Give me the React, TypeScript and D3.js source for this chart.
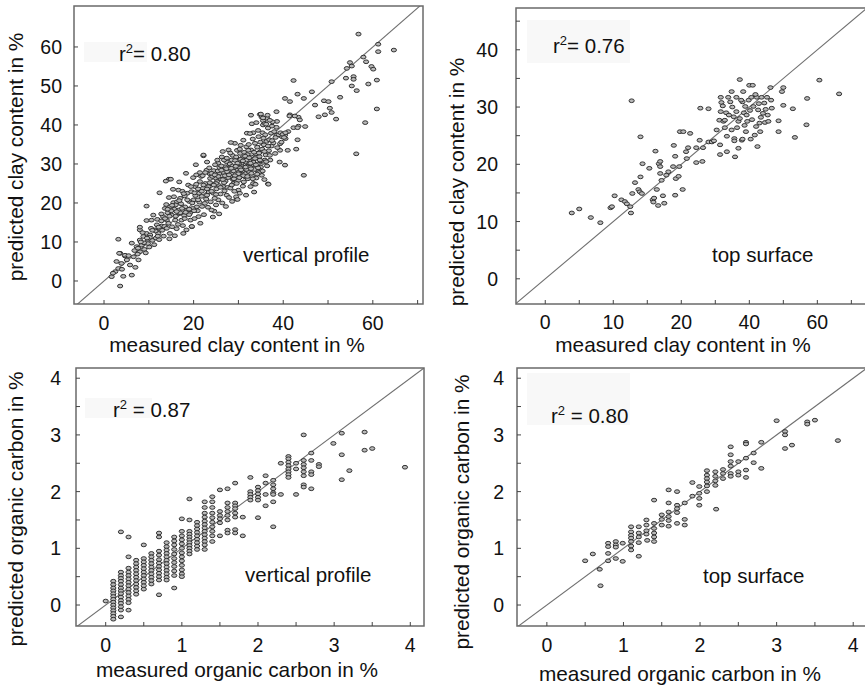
import React from 'react';
import * as d3 from 'd3';

const FONT = '"Liberation Sans", Arial, Helvetica, sans-serif';

// ---------- Panel A: clay content, vertical profile (measured, predicted) ----------
const CLAY_VP: [number, number][] = [
  [56.8,63.3],[61.2,60.7],[64.7,59.2],[61.2,58.8],[57.9,57.4],[58.5,56.2],[54.9,56.0],[55.3,55.1],[54.2,54.5],[59.7,55.0],
  [60.1,54.3],[55.7,52.4],[55.7,51.7],[54.0,52.0],[55.3,50.0],[56.4,48.8],[60.9,51.5],[59.0,50.5],[50.8,51.1],[42.3,51.4],
  [60.9,44.1],[58.3,40.6],[56.3,32.6],[44.6,27.1],[40.4,29.7],[52.7,47.1],[49.1,46.2],[50.1,46.0],[50.4,44.3],[50.8,43.2],
  [51.8,41.5],[49.3,42.6],[47.9,42.1],[46.4,48.5],[47.1,45.1],[44.6,46.8],[43.2,47.9],[40.4,46.8],[41.5,46.0],[41.5,42.6],
  [43.4,42.0],[42.3,39.3],[43.4,39.7],[44.9,39.6],[43.2,36.2],[42.9,33.8],[38.5,43.4],[34.8,42.7],[32.8,42.5],[35.2,42.0],
  [33.0,40.3],[39.7,37.0],[35.5,41.1],[35.5,40.0],[37.5,39.7],[38.6,40.9],[41.4,42.3],[43.7,41.3],[42.6,42.3],[40.4,37.4],
  [41.1,38.3],[43.2,39.3],[40.5,36.5],[36.4,41.7],[31.9,37.9],[33.3,38.0],[38.5,37.4],[39.3,35.2],[39.3,33.5],[36.6,24.9],
  [33.6,24.9],[29.6,21.0],[24.6,17.9],[19.6,13.9],[3.2,10.7],[3.6,-1.3],[6.2,1.5],[1.7,1.1],[3.6,7.1],[4.7,6.4],
  [9.5,12.2],[9.5,15.5],[14.5,26.1],[13.8,25.6],[22.2,32.1],[25.5,30.2],
  [2.5,2.4],[3.2,3.2],[4.3,1.2],[3.9,4.5],[5.1,5.4],[2.8,5.0],[4.7,6.6],[3.4,7.1],[5.8,4.1],[2.0,2.0],
  [4.0,3.0],[5.5,6.5],[6.6,6.2],[7.7,5.4],[8.0,7.5],[7.3,8.8],[6.2,9.7],[8.0,10.5],[8.8,11.4],[9.7,10.1],
  [10.3,11.8],[8.0,13.1],[8.0,13.8],[9.5,19.2],[10.6,15.6],[11.0,16.9],[11.4,13.1],[11.8,14.4],[12.1,12.2],[12.9,14.1],
  [12.4,22.6],[13.2,16.5],[13.6,18.6],[14.0,15.6],[14.4,14.8],[14.7,12.2],[15.1,16.9],[14.5,21.4],[14.9,26.1],[15.5,20.1],
  [15.9,15.6],[16.2,13.4],[16.6,18.2],[17.0,21.2],[16.6,23.3],[17.3,15.6],[17.7,12.2],[18.1,19.0],[18.3,27.6],[18.6,22.5],
  [19.2,17.4],[19.6,14.0],[20.0,20.8],[20.3,24.2],[20.7,19.0],[21.1,16.5],[20.5,29.8],[21.4,25.5],[21.8,21.7],[22.2,32.3],
  [22.5,19.9],[22.9,28.4],[23.3,24.2],[23.7,26.3],[24.0,18.2],[24.4,22.5],[24.8,29.8],[25.2,25.5],[25.5,20.8],[25.9,27.6],
  [26.3,31.8],[26.6,24.2],[27.0,29.3],[27.4,22.0],[27.8,33.6],[28.1,26.7],[28.5,31.0],[28.9,25.0],[29.2,35.3],[29.6,28.4],
  [30.0,23.3],[30.4,32.7],[29.5,21.6],[29.8,20.9],[30.7,30.1],[31.1,36.1],[31.5,26.7],[31.8,34.4],[32.2,29.3],[32.6,37.8],
  [32.9,31.8],[33.3,25.0],[33.7,35.3],[34.1,28.4],[34.4,38.6],[34.8,33.1],[35.2,27.1],[35.6,36.6],[35.9,40.4],[35.9,31.0],
  [33.8,24.8],[36.7,24.8],
  [6.8,7.8],[7.5,6.9],[8.4,9.2],[9.0,8.1],[9.8,9.6],[7.0,3.5],[8.6,12.4],[9.3,7.2],[10.1,8.7],[10.8,10.4],
  [10.5,13.5],[11.2,9.3],[11.6,11.0],[11.9,15.8],[12.3,10.6],[12.6,13.3],[12.8,17.2],[13.3,11.5],[13.5,14.0],[13.9,19.6],
  [14.2,17.5],[14.6,10.8],[14.8,19.1],[15.2,13.9],[15.4,23.5],[15.7,18.4],[15.8,11.6],[16.0,16.6],[16.3,20.3],[16.5,14.5],
  [16.8,25.4],[16.9,17.3],[17.2,19.8],[17.5,23.0],[17.6,14.2],[17.9,16.8],[18.0,21.8],[18.4,13.1],[18.5,18.1],[18.8,24.6],
  [19.0,20.4],[19.3,15.6],[19.5,22.9],[19.8,18.6],[19.9,26.5],[20.2,16.0],[20.4,21.9],[20.6,27.2],[20.9,18.0],[21.0,23.6],
  [21.3,20.2],[21.5,14.8],[21.7,26.8],[21.9,19.1],[22.1,23.8],[22.3,17.0],[22.6,25.0],[22.8,21.0],[23.0,30.5],[23.2,18.9],
  [23.4,22.8],[23.6,27.5],[23.8,20.3],[24.1,24.9],[24.3,16.4],[24.5,28.3],[24.7,21.2],[24.9,26.4],[25.0,19.5],[25.1,23.6],
  [25.3,31.0],[25.6,24.5],[25.7,17.2],[25.8,29.0],[26.0,22.3],[26.1,26.1],[26.4,20.0],[26.5,33.2],[26.7,27.8],[26.9,23.1],
  [27.1,25.6],[27.2,19.1],[27.3,30.6],[27.5,28.0],[27.6,24.0],[27.9,21.4],[28.0,29.7],[28.2,23.8],[28.3,35.5],[28.4,27.5],
  [28.6,20.4],[28.7,32.2],[28.8,26.0],[29.0,29.0],[29.1,23.0],[29.3,30.9],[29.4,26.4],[29.7,33.5],[29.9,27.2],[30.0,25.8],
  [30.1,30.0],[30.2,28.0],[30.3,22.5],[30.5,34.8],[30.6,26.9],[30.8,29.3],[30.9,31.6],[31.0,24.3],[31.2,28.8],[31.3,33.0],
  [31.4,27.6],[31.6,30.5],[31.7,22.0],[31.9,29.4],[32.0,32.4],[32.1,26.2],[32.3,35.0],[32.4,28.0],[32.5,30.8],[32.7,24.2],
  [32.8,33.6],[33.0,27.0],[33.1,29.7],[33.2,36.4],[33.4,31.2],[33.5,22.8],[33.6,28.6],[33.9,32.6],[34.0,26.4],[34.2,34.3],
  [34.3,30.0],[34.5,37.0],[34.6,27.8],[34.7,31.9],[34.9,35.6],[35.0,29.2],[35.3,33.8],[35.4,38.0],[35.5,30.4],[35.7,34.9],
  [35.8,26.0],[36.0,37.5],[36.1,32.3],[36.3,35.8],[36.4,29.5],[36.6,39.2],[36.8,33.4],[36.9,36.2],[37.1,31.0],[37.3,37.9],
  [37.4,34.6],[37.6,40.8],[37.8,35.4],[38.0,38.3],[38.2,32.7],[38.3,36.8],[38.5,39.4],[38.7,34.2],[39.0,37.5],[39.2,30.5],
  [39.4,38.0],[39.6,35.6],[39.9,37.6],[40.2,36.8],[40.5,38.0],[41.0,33.5],[37.0,41.2],[36.2,40.2],[35.5,41.8],[34.0,40.6],
  [35.0,42.8],[36.5,42.5],
  [22.0,27.0],[23.5,29.0],[24.2,26.8],[25.4,28.2],[26.2,29.5],[26.8,31.0],[27.7,26.5],[28.1,30.0],[28.9,28.2],[29.5,31.8],
  [30.4,29.0],[31.1,27.0],[31.8,31.0],[32.6,29.2],[33.3,30.5],[34.4,29.0],[32.2,33.5],[30.0,27.5],[27.0,27.0],[25.0,25.0],
  [24.0,23.0],[23.0,22.0],[21.2,22.5],[20.1,18.0],[19.0,17.0],[18.0,16.0],[17.0,17.5],[16.0,19.5],[15.0,18.0],[14.0,13.5],
  [13.0,13.0],[12.0,11.5],
  [26.2,28.4],[26.8,25.2],[27.4,31.5],[27.9,27.2],[28.5,24.6],[28.7,29.5],[29.2,27.0],[29.6,25.0],[29.8,30.2],[30.2,26.5],
  [30.5,31.2],[30.9,28.2],[31.2,25.4],[31.5,32.0],[31.8,28.6],[32.0,26.8],[32.4,31.6],[32.8,28.8],[33.2,26.2],[33.5,33.0],
  [33.9,29.8],[34.2,27.4],[34.6,32.8],[35.0,30.8],[35.4,28.2],[35.8,33.2],[36.2,30.6],[36.6,34.6],[37.0,32.2],[37.5,36.0],
  [25.5,26.8],[25.0,22.2],[24.5,24.6],[24.0,27.6],[23.6,25.2],[23.0,23.6],[22.6,27.8],[22.2,24.6],[21.8,23.0],[21.4,27.8],
  [21.0,20.8],[20.6,24.8],[20.2,22.6],[19.7,20.0],[19.4,24.2],[19.0,18.4],[18.6,20.8],[18.2,17.6],[17.8,22.4],[17.4,18.6],
  [16.8,20.6],[16.2,17.8],[15.6,21.6],[15.2,19.4],[14.6,16.6],[14.2,18.4],[13.6,16.0],[12.8,15.4],[12.2,13.8],[11.5,12.8],
  [10.8,13.0],[10.2,11.2],[9.6,11.0],[8.9,9.8],[8.2,10.0],[7.6,8.4],
  [27.3,28.8],[28.4,28.9],[29.4,29.4],[30.6,28.5],[31.6,29.2],[32.7,30.2],[33.7,31.4],[34.8,31.0],[26.5,26.0],[29.0,26.2],
  [31.0,30.8],[32.9,27.6],[28.2,32.8],[30.3,33.8],[24.7,27.2],[26.0,24.0],
];

// ---------- Panel B: clay content, top surface ----------
const CLAY_TS: [number, number][] = [
  [3.9,11.5],[5.0,12.2],[6.7,10.7],[8.1,9.8],[9.6,12.4],[9.8,12.6],[10.2,14.5],[11.2,13.8],[11.7,13.5],[12.0,13.1],
  [12.5,12.6],[12.6,11.5],[12.7,31.1],[12.8,14.9],[13.2,16.8],[13.7,15.6],[13.9,15.2],[14.0,24.8],[14.2,14.9],[14.3,20.1],
  [14.0,17.8],[15.3,19.3],[15.8,13.8],[15.9,13.4],[16.0,14.1],[16.2,22.3],[16.4,15.6],[16.6,12.8],[16.7,20.1],[16.9,19.6],
  [16.9,20.5],[16.9,18.4],[17.1,17.2],[17.3,14.5],[17.5,13.2],[17.8,18.1],[18.1,18.7],[18.8,19.6],[18.9,23.3],[19.1,21.4],
  [19.1,14.6],[19.2,17.5],[19.6,17.9],[19.7,19.6],[19.8,25.7],[20.3,25.7],[20.2,15.6],[20.7,22.2],[20.8,21.0],[21.0,22.9],
  [21.3,25.4],[22.2,22.9],[22.2,20.3],[22.7,24.2],[23.1,20.5],[23.2,22.9],[24.0,29.7],[24.0,23.9],[22.8,29.8],[24.5,23.9],
  [24.8,24.1],[25.7,21.7],[25.7,23.4],[25.6,27.7],[25.8,29.2],[25.8,31.7],[25.9,30.8],[26.2,27.5],[26.4,27.7],[26.7,24.9],
  [26.7,22.2],[26.9,31.7],[27.2,30.9],[27.4,32.7],[27.7,28.3],[27.8,24.5],[27.8,24.1],[27.9,21.3],[28.1,29.2],[28.1,31.7],
  [28.4,27.5],[28.4,22.8],[28.6,34.8],[28.9,24.2],[29.0,30.9],[29.1,32.7],[29.2,29.0],[29.4,30.1],[29.5,25.7],[29.7,27.5],
  [29.9,31.2],[30.0,33.8],[30.5,33.8],[30.3,31.7],[30.6,30.1],[30.8,25.1],[31.0,26.6],[31.1,31.7],[31.2,23.1],[31.3,29.5],
  [31.5,27.2],[31.6,25.7],[31.8,31.7],[32.0,28.9],[32.2,30.7],[32.3,27.3],[32.6,31.7],[32.7,28.6],[32.8,27.5],[33.1,33.4],
  [33.2,31.2],[33.3,29.8],[34.3,27.6],[34.3,25.7],[34.8,32.7],[35.0,33.4],[35.0,30.3],[36.4,29.7],[36.7,24.7],[38.4,26.9],
  [38.5,31.5],[40.3,34.7],[43.2,32.3],
  [26.1,30.2],[26.6,29.0],[27.0,28.6],[27.5,30.0],[28.2,26.4],[28.6,28.0],[28.8,31.2],[29.3,26.8],[29.6,28.6],[30.1,29.4],
  [30.4,27.8],[30.9,32.2],[31.4,30.6],[31.7,28.2],[32.4,29.6],[30.2,24.4],[29.0,24.4],[27.4,26.0],[26.4,26.4],[25.2,26.0],
];

// ---------- Panel C: organic carbon, vertical profile (columns by measured value) ----------
const OC_VP_MEASURED = [0.1,0.2,0.3,0.4,0.5,0.6,0.7,0.8,0.9,1.0,1.1,1.2,1.3,1.4,1.5,1.6,1.7,1.8,1.9,2.0,2.1,2.2,2.3,2.4,2.5,2.6,2.7,2.8];
const OC_VP_PREDICTED: number[][] = [
  [0.42,0.36,0.3,0.25,0.2,0.15,0.1,0.05,0.0,-0.05,-0.1,-0.15,-0.2,-0.25],
  [1.29,0.58,0.52,0.47,0.42,0.36,0.3,0.25,0.2,0.14,0.08,0.03,-0.03,-0.09,-0.21],
  [1.2,0.85,0.65,0.58,0.52,0.46,0.4,0.34,0.28,0.22,0.16,0.1,0.04,-0.09],
  [0.79,0.73,0.67,0.61,0.55,0.49,0.43,0.37,0.31,0.25,0.19],
  [1.06,0.82,0.76,0.7,0.64,0.58,0.52,0.46,0.4,0.34,0.28],
  [0.91,0.85,0.79,0.73,0.67,0.61,0.55,0.49,0.43,0.37],
  [1.27,1.2,0.95,0.88,0.8,0.74,0.68,0.62,0.56,0.5,0.44,0.18],
  [1.1,1.03,0.97,0.91,0.85,0.79,0.73,0.67,0.61,0.55,0.49,0.44],
  [1.2,1.13,1.06,0.98,0.9,0.82,0.75,0.68,0.6,0.52,0.3],
  [1.52,1.3,1.22,1.15,1.08,1.0,0.92,0.85,0.78,0.7,0.62,0.55,0.5],
  [1.87,1.5,1.3,1.25,1.2,1.15,1.1,1.05,1.0,0.95,0.9],
  [1.46,1.4,1.34,1.28,1.22,1.16,1.1,1.04,0.98],
  [1.82,1.72,1.62,1.55,1.48,1.42,1.36,1.3,1.24,1.18,1.12,1.06,0.98],
  [1.91,1.82,1.72,1.62,1.54,1.46,1.38,1.3,1.22,1.12],
  [2.03,1.65,1.58,1.52,1.45,1.22],
  [2.05,1.8,1.72,1.65,1.58,1.5,1.32,1.27],
  [2.15,1.8,1.75,1.7,1.62,1.55,1.33,1.27],
  [1.55,1.22],
  [2.25,2.0,1.95,1.9,1.85],
  [2.08,2.02,1.96,1.9,1.85,1.54],
  [2.28,2.15,1.95,1.75],
  [2.2,2.12,2.05,1.98,1.95,1.82,1.38],
  [2.5,1.95],
  [2.62,2.58,2.52,2.46,2.4,2.35,2.3,2.25],
  [2.5,2.4,1.95],
  [3.0,2.55,2.48,2.42,2.35,2.28,2.12,2.08],
  [2.68,2.55,2.35,2.3,2.05],
  [2.48,2.44],
];
const OC_VP_EXTRA: [number, number][] = [
  [0.0,0.07],[2.99,2.85],[3.1,3.03],[3.1,2.65],[3.1,2.21],[3.2,2.37],[3.4,3.05],[3.4,2.73],[3.5,2.76],[3.93,2.43],
];

// ---------- Panel D: organic carbon, top surface ----------
const OC_TS: [number, number][] = [
  [0.5,0.78],[0.6,0.9],[0.69,0.63],[0.7,0.34],[0.8,1.09],[0.8,1.03],[0.8,0.91],[0.8,0.78],[0.9,1.12],[0.9,1.06],
  [0.9,1.02],[0.9,0.82],[0.99,1.09],[0.99,0.77],[1.1,1.38],[1.1,1.29],[1.1,1.23],[1.1,1.18],[1.1,1.12],[1.1,1.04],
  [1.1,0.97],[1.2,1.38],[1.2,1.27],[1.2,1.2],[1.2,1.1],[1.2,0.86],[1.3,1.5],[1.3,1.41],[1.3,1.31],[1.3,1.25],
  [1.31,1.14],[1.4,1.44],[1.4,1.35],[1.4,1.27],[1.4,1.2],[1.4,1.12],[1.4,1.85],[1.5,1.59],[1.5,1.51],[1.5,1.41],
  [1.59,2.03],[1.59,1.8],[1.59,1.64],[1.59,1.56],[1.59,1.49],[1.59,1.39],[1.7,2.0],[1.7,1.76],[1.7,1.7],[1.7,1.63],
  [1.7,1.44],[1.8,1.51],[1.8,1.41],[1.8,1.8],[1.9,2.16],[1.9,1.92],[1.99,2.09],[1.99,1.97],[1.99,1.88],[1.99,1.76],
  [2.09,2.37],[2.09,2.29],[2.09,2.23],[2.09,2.17],[2.09,2.1],[2.09,2.0],[2.2,2.35],[2.2,2.27],[2.2,2.19],[2.2,2.11],
  [2.21,1.69],[2.3,2.39],[2.3,2.32],[2.3,2.23],[2.4,2.79],[2.4,2.65],[2.4,2.53],[2.4,2.45],[2.4,2.32],[2.4,2.27],
  [2.5,2.53],[2.5,2.35],[2.5,2.29],[2.6,2.87],[2.6,2.84],[2.6,2.59],[2.6,2.38],[2.6,2.25],[2.7,2.68],[2.7,2.51],
  [2.8,2.87],[2.8,2.41],[3.0,3.25],[3.11,3.06],[3.11,3.0],[3.11,2.76],[3.2,2.82],[3.4,3.23],[3.4,3.19],[3.5,3.26],
  [3.8,2.9],
];

// ---------- Axis ticks and labels ----------
const CLAY_VP_XTICKS = [0,10,20,30,40,50,60,70];
const CLAY_VP_XLABELS = ['0','20','40','60'];
const CLAY_VP_XLABEL_AT = [0,20,40,60];
const CLAY_VP_YTICKS = [0,10,20,30,40,50,60];
const CLAY_VP_YLABELS = ['0','10','20','30','40','50','60'];

const CLAY_TS_XTICKS = [0,5,10,15,20,25,30,35,40,45];
const CLAY_TS_XLABELS = ['0','10','20','40','60'];
const CLAY_TS_XLABEL_AT = [0,10,20,30,40];
const CLAY_TS_YTICKS = [0,5,10,15,20,25,30,35,40,45];
const CLAY_TS_YLABELS = ['0','10','20','30','40'];
const CLAY_TS_YLABEL_AT = [0,10,20,30,40];

const OC_TICKS = [0,0.5,1,1.5,2,2.5,3,3.5,4];
const OC_LABELS = ['0','1','2','3','4'];
const OC_LABEL_AT = [0,1,2,3,4];

type PanelCfg = {
  id: string;
  points: [number, number][];
  left: number; right: number; top: number; bottom: number;
  xDomain: [number, number]; yDomain: [number, number];
  xTicks: number[]; xLabelAt: number[]; xLabels: string[];
  yTicks: number[]; yLabelAt: number[]; yLabels: string[];
  xTickBase: number; yTickRight: number;
  xTitle: string; xTitleX: number; xTitleY: number;
  yTitle: string; yTitleX: number; yTitleY: number;
  r2: string; r2Space: boolean; r2X: number; r2Y: number;
  box: [number, number, number, number];
  tag: string; tagX: number; tagY: number;
};

const FS_TICK = 19.5;
const FS = 20.5;
const FS_TITLE = 20.8;

function Panel({ c }: { c: PanelCfg }) {
  const x = d3.scaleLinear().domain(c.xDomain).range([c.left, c.right]);
  const y = d3.scaleLinear().domain(c.yDomain).range([c.bottom, c.top]);
  const lo = Math.min(c.xDomain[0], c.yDomain[0]);
  const hi = Math.max(c.xDomain[1], c.yDomain[1]);
  const diag = d3.line<number>().x(v => x(v)).y(v => y(v))([lo, hi]) || '';
  const clip = `clip-${c.id}`;
  return (
    <g>
      <defs>
        <clipPath id={clip}>
          <rect x={c.left} y={c.top} width={c.right - c.left} height={c.bottom - c.top} />
        </clipPath>
      </defs>
      <rect x={c.box[0]} y={c.box[1]} width={c.box[2] - c.box[0]} height={c.box[3] - c.box[1]} fill="#f8f8f8" />
      <g clipPath={`url(#${clip})`}>
        <path d={diag} stroke="#707070" strokeWidth={1.1} fill="none" />
        {c.points.map((p, i) => (
          <ellipse key={i} cx={x(p[0])} cy={y(p[1])} rx={2.6} ry={1.85}
            fill="#b8b8b8" stroke="#2a2a2a" strokeWidth={0.95} />
        ))}
      </g>
      <rect x={c.left} y={c.top} width={c.right - c.left} height={c.bottom - c.top}
        fill="none" stroke="#6a6a6a" strokeWidth={1.5} />
      {c.xTicks.map(t => (
        <line key={'xt' + t} x1={x(t)} x2={x(t)} y1={c.bottom} y2={c.bottom - 4} stroke="#444" strokeWidth={1} />
      ))}
      {c.yTicks.map(t => (
        <line key={'yt' + t} x1={c.left} x2={c.left + 4} y1={y(t)} y2={y(t)} stroke="#444" strokeWidth={1} />
      ))}
      {c.xLabelAt.map((t, i) => (
        <text key={'xl' + t} x={x(t)} y={c.xTickBase} textAnchor="middle" fontSize={FS_TICK} fontFamily={FONT} fill="#111">
          {c.xLabels[i]}
        </text>
      ))}
      {c.yLabelAt.map((t, i) => (
        <text key={'yl' + t} x={c.yTickRight} y={y(t)} dy="0.36em" textAnchor="end" fontSize={FS_TICK} fontFamily={FONT} fill="#111">
          {c.yLabels[i]}
        </text>
      ))}
      <text x={c.xTitleX} y={c.xTitleY} textAnchor="middle" fontSize={FS_TITLE} fontFamily={FONT} fill="#111">{c.xTitle}</text>
      <text x={c.yTitleX} y={c.yTitleY} textAnchor="middle" fontSize={FS_TITLE} fontFamily={FONT} fill="#111"
        transform={`rotate(-90, ${c.yTitleX}, ${c.yTitleY})`}>{c.yTitle}</text>
      <text x={c.r2X} y={c.r2Y} fontSize={FS} fontFamily={FONT} fill="#111">
        r<tspan fontSize={13} dy={-8}>2</tspan><tspan dy={8}>{c.r2Space ? ' = ' : '= '}{c.r2}</tspan>
      </text>
      <text x={c.tagX} y={c.tagY} fontSize={FS} fontFamily={FONT} fill="#111">{c.tag}</text>
    </g>
  );
}

const ocVpPoints: [number, number][] = OC_VP_MEASURED.flatMap((m, i) =>
  OC_VP_PREDICTED[i].map(p => [m, p] as [number, number])
).concat(OC_VP_EXTRA);

const PANELS: PanelCfg[] = [
  {
    id: 'a', points: CLAY_VP, left: 74, right: 423, top: 6, bottom: 304,
    xDomain: [-6.7, 71.2], yDomain: [-5.9, 70.5],
    xTicks: CLAY_VP_XTICKS, xLabelAt: CLAY_VP_XLABEL_AT, xLabels: CLAY_VP_XLABELS,
    yTicks: CLAY_VP_YTICKS, yLabelAt: CLAY_VP_YTICKS, yLabels: CLAY_VP_YLABELS,
    xTickBase: 329.5, yTickRight: 62,
    xTitle: 'measured clay content in %', xTitleX: 237, xTitleY: 352,
    yTitle: 'predicted clay content in %', yTitleX: 23, yTitleY: 157,
    r2: '0.80', r2Space: false, r2X: 119, r2Y: 61, box: [84, 42, 147, 62],
    tag: 'vertical profile', tagX: 243, tagY: 262,
  },
  {
    id: 'b', points: CLAY_TS, left: 516, right: 867, top: 8, bottom: 304,
    xDomain: [-4.3, 47.3], yDomain: [-4.4, 47.3],
    xTicks: CLAY_TS_XTICKS, xLabelAt: CLAY_TS_XLABEL_AT, xLabels: CLAY_TS_XLABELS,
    yTicks: CLAY_TS_YTICKS, yLabelAt: CLAY_TS_YLABEL_AT, yLabels: CLAY_TS_YLABELS,
    xTickBase: 329, yTickRight: 498,
    xTitle: 'measured clay content in %', xTitleX: 683, xTitleY: 352,
    yTitle: 'predicted clay content in %', yTitleX: 464, yTitleY: 182,
    r2: '0.76', r2Space: false, r2X: 553, r2Y: 53, box: [527, 20, 630, 63],
    tag: 'top surface', tagX: 712, tagY: 262,
  },
  {
    id: 'c', points: ocVpPoints, left: 76, right: 424, top: 368, bottom: 626,
    xDomain: [-0.39, 4.18], yDomain: [-0.37, 4.18],
    xTicks: OC_TICKS, xLabelAt: OC_LABEL_AT, xLabels: OC_LABELS,
    yTicks: OC_TICKS, yLabelAt: OC_LABEL_AT, yLabels: OC_LABELS,
    xTickBase: 652, yTickRight: 61,
    xTitle: 'measured organic carbon in %', xTitleX: 237, xTitleY: 677,
    yTitle: 'predicted organic carbon in %', yTitleX: 23, yTitleY: 509,
    r2: '0.87', r2Space: true, r2X: 113, r2Y: 417, box: [85, 398, 152, 418],
    tag: 'vertical profile', tagX: 245, tagY: 582,
  },
  {
    id: 'd', points: OC_TS, left: 517, right: 867, top: 368, bottom: 626,
    xDomain: [-0.39, 4.18], yDomain: [-0.37, 4.18],
    xTicks: OC_TICKS, xLabelAt: OC_LABEL_AT, xLabels: OC_LABELS,
    yTicks: OC_TICKS, yLabelAt: OC_LABEL_AT, yLabels: OC_LABELS,
    xTickBase: 652, yTickRight: 504,
    xTitle: 'measured organic carbon in %', xTitleX: 680, xTitleY: 681,
    yTitle: 'predicted organic carbon in %', yTitleX: 469, yTitleY: 512,
    r2: '0.80', r2Space: true, r2X: 551, r2Y: 423, box: [527, 373, 630, 425],
    tag: 'top surface', tagX: 703, tagY: 583,
  },
];

export default function App() {
  return (
    <svg width={865} height={689} viewBox="0 0 865 689"
      style={{ position: 'absolute', left: 0, top: 0, background: '#fff' }}>
      <rect x={0} y={0} width={865} height={689} fill="#fff" />
      {PANELS.map(p => <Panel key={p.id} c={p} />)}
    </svg>
  );
}
